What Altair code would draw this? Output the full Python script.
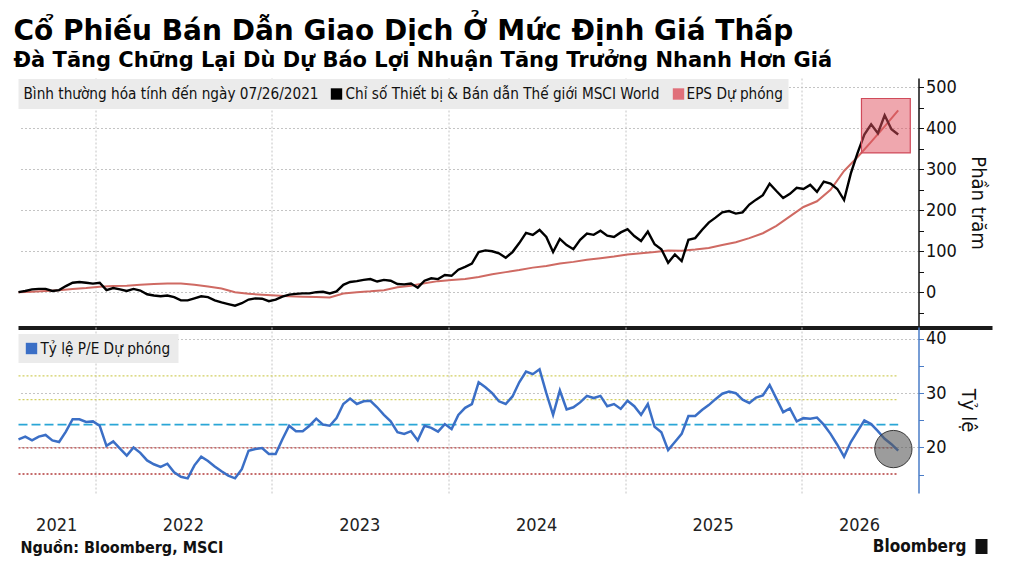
import altair as alt
import pandas as pd

START = "2021-07-26"

# MSCI World Semiconductors & Semiconductor Equipment, % change since 07/26/2021 (every 14 days)
index_pct = [
    0, 3, 7, 8, 8, 3, 5, 15, 23, 25,
    23, 21, 23, 5, 10, 7, 3, 8, 4, -5,
    -8, -10, -8, -12, -20, -20, -15, -10, -12, -20,
    -25, -29, -33, -27, -18, -15, -16, -22, -18, -11,
    -6, -4, -3, -3, 0, 1, -3, 2, 18, 25,
    27, 30, 32, 26, 30, 28, 20, 19, 21, 11,
    28, 34, 32, 42, 40, 55, 62, 70, 98, 102,
    100, 95, 84, 98, 120, 145, 140, 152, 135, 98,
    130, 115, 105, 128, 143, 140, 150, 138, 135, 146,
    154, 137, 125, 148, 117, 105, 72, 92, 76, 128,
    132, 152, 170, 182, 195, 198, 192, 195, 214, 226,
    237, 265, 247, 230, 240, 255, 252, 262, 245, 270,
    265, 252, 225, 290, 340, 385, 410, 388, 432, 398,
    385,
]

# Forward EPS, % change since 07/26/2021 (every 28 days)
eps_pct = [
    0, 1, 3, 5, 8, 10, 13, 15, 16, 18,
    20, 21, 21, 18, 14, 9, 0, -4, -6, -8,
    -10, -11, -12, -13, -3, 0, 2, 5, 12, 16,
    22, 27, 30, 32, 37, 44, 49, 54, 60, 64,
    70, 74, 79, 83, 87, 92, 95, 98, 102, 101,
    104, 108, 115, 122, 132, 144, 162, 185, 208, 222,
    250, 296, 330, 367, 405, 444,
]

# Forward P/E ratio (every 14 days)
pe_ratio = [
    21.5, 22.0, 21.3, 22.0, 22.3, 21.3, 21.0, 22.9, 25.2, 25.2,
    24.7, 24.8, 24.0, 20.3, 21.1, 19.8, 18.5, 20.0, 19.0, 17.6,
    16.9, 16.4, 17.0, 15.4, 14.6, 14.3, 16.7, 18.3, 17.5, 16.5,
    15.6, 14.8, 14.3, 16.0, 19.4, 19.7, 19.9, 18.8, 18.8, 21.5,
    24.0, 23.0, 23.0, 24.0, 25.3, 24.2, 24.0, 25.4, 28.0, 29.0,
    28.0, 28.5, 28.6, 27.4, 26.0, 24.8, 22.8, 22.5, 23.0, 21.3,
    24.0, 23.6, 22.9, 24.3, 23.4, 26.0, 27.3, 28.0, 32.0, 31.1,
    30.0, 28.5, 28.0, 29.4, 32.0, 34.0, 33.5, 34.4, 30.0, 26.0,
    30.5, 27.0, 27.4, 28.3, 29.5, 29.1, 29.5, 27.6, 28.0, 27.1,
    28.6, 27.6, 26.0, 28.0, 23.8, 22.8, 19.5, 21.0, 22.5, 25.8,
    25.8, 26.9, 27.8, 28.9, 29.9, 30.3, 30.0, 28.8, 28.2, 29.2,
    29.6, 31.5, 29.0, 26.5, 27.2, 24.8, 25.4, 25.3, 25.5, 24.2,
    22.5, 20.5, 18.3, 21.0, 23.0, 25.0, 24.3, 23.0, 21.6, 20.6,
    19.4,
]

# P/E reference levels: mean and +/- 1 and 2 standard deviations
pe_levels_high = [28.8, 33.2]
pe_levels_mean = [24.2]
pe_levels_low = [15.1, 19.9]

years = ["2021", "2022", "2023", "2024", "2025", "2026"]
year_mid = ["2021-10-13", "2022-07-02", "2023-07-02", "2024-07-02", "2025-07-02", "2026-05-01"]

# highlighted window on the index panel
box_start, box_end = "2026-05-05", "2026-08-14"
box_low, box_high = 340, 473

# marked reading on the P/E panel
mark_date, mark_pe = "2026-07-10", 19.7

TITLE = "Cổ Phiếu Bán Dẫn Giao Dịch Ở Mức Định Giá Thấp"
SUBTITLE = "Đà Tăng Chững Lại Dù Dự Báo Lợi Nhuận Tăng Trưởng Nhanh Hơn Giá"
LEG_NORM = "Bình thường hóa tính đến ngày 07/26/2021"
LEG_INDEX = "Chỉ số Thiết bị & Bán dẫn Thế giới MSCI World"
LEG_EPS = "EPS Dự phóng"
LEG_PE = "Tỷ lệ P/E Dự phóng"
SOURCE = "Nguồn: Bloomberg, MSCI"

# ---------------------------------------------------------------- frames
idx_dates = pd.date_range(START, periods=len(index_pct), freq="14D")
eps_dates = pd.date_range(START, periods=len(eps_pct), freq="28D")
idx_df = pd.DataFrame({"date": idx_dates, "value": index_pct})
eps_df = pd.DataFrame({"date": eps_dates, "value": eps_pct})
pe_df = pd.DataFrame({"date": idx_dates, "value": pe_ratio})

first_day, last_day = idx_dates[0], idx_dates[-1]


def level_frame(levels):
    return pd.DataFrame({"start": [first_day] * len(levels), "end": [last_day] * len(levels), "level": levels})


box_df = pd.DataFrame({"start": [pd.Timestamp(box_start)], "end": [pd.Timestamp(box_end)],
                       "low": [box_low], "high": [box_high]})
mark_df = pd.DataFrame({"date": [pd.Timestamp(mark_date)], "value": [mark_pe]})
year_df = pd.DataFrame({"year": years, "mid": pd.to_datetime(year_mid)})
one = pd.DataFrame({"k": [0]})

# ---------------------------------------------------------------- styling
TXT = "DejaVu Sans Condensed"
HEAD = "DejaVu Sans"
W, H_TOP, H_BOT = 900, 249, 166
GRID = "#c4c4c4"
BLUE = "#3b6fc6"
LEG_SIZE = 15.2

x_scale = alt.Scale(domain=[alt.DateTime(year=2021, month=7, date=26),
                            alt.DateTime(year=2026, month=8, date=31)])
x_axis = alt.Axis(values=[alt.DateTime(year=y, month=1, date=1) for y in range(2022, 2027)],
                  labels=False, ticks=False, domain=False, title=None,
                  grid=True, gridDash=[2, 2], gridColor=GRID)


def y_axis(values, step, title, line_color):
    return alt.Axis(
        orient="right", values=values,
        labelExpr=f"datum.value % {step} === 0 ? datum.label : ''",
        grid=True, gridDash=[2, 2], gridColor=GRID,
        gridOpacity={"condition": {"test": f"datum.value % {step} === 0", "value": 1}, "value": 0},
        domainColor=line_color, domainWidth=1.5, tickColor=line_color, tickSize=5,
        labelFont=TXT, labelFontSize=18, labelColor="#111", labelPadding=2,
        title=title, titleFont=TXT, titleFontSize=20, titleFontWeight="normal",
        titleColor="#111", titlePadding=11,
    )


def xenc(field):
    return alt.X(f"{field}:T", scale=x_scale, axis=x_axis)


# ---------------------------------------------------------------- top panel
y_top = alt.Scale(domain=[-85, 523], nice=False, zero=False)
y_top_axis = y_axis(list(range(-50, 501, 50)), 100, "Phần trăm", "#111")


def ytop(field):
    return alt.Y(f"{field}:Q", scale=y_top, axis=y_top_axis)


eps_line = alt.Chart(eps_df).mark_line(color="#cf6a63", strokeWidth=2).encode(
    x=xenc("date"), y=ytop("value"))
idx_line = alt.Chart(idx_df).mark_line(color="#000000", strokeWidth=2.4).encode(
    x=xenc("date"), y=ytop("value"))
box = alt.Chart(box_df).mark_rect(fill="#e0505e", fillOpacity=0.5, stroke="#d04a5a",
                                  strokeWidth=1.2).encode(
    x=xenc("start"), x2="end:T", y=ytop("low"), y2="high:Q")


def label(text, x, y, **kw):
    return alt.Chart(one).mark_text(text=text, align="left", baseline="middle", font=TXT,
                                    fontSize=LEG_SIZE, color="#111", **kw).encode(
        x=alt.value(x), y=alt.value(y))


def swatch(color, x, y):
    return alt.Chart(one).mark_square(size=130, color=color, opacity=1).encode(
        x=alt.value(x), y=alt.value(y))


top_legend = [
    alt.Chart(one).mark_rect(color="#ebebeb").encode(
        x=alt.value(0), x2=alt.value(770), y=alt.value(1), y2=alt.value(31)),
    label(LEG_NORM, 5, 16),
    swatch("#000000", 318, 16),
    label(LEG_INDEX, 327, 16),
    swatch("#e0707a", 660, 16),
    label(LEG_EPS, 668, 16),
]
separator = alt.Chart(one).mark_rule(color="#1a1a1a", strokeWidth=4).encode(
    x=alt.value(0), x2=alt.value(974), y=alt.value(H_TOP + 1))

top = alt.layer(eps_line, idx_line, box, *top_legend, separator).properties(width=W, height=H_TOP)

# ---------------------------------------------------------------- bottom panel
y_bot = alt.Scale(domain=[11.6, 42.2], nice=False, zero=False)
y_bot_axis = y_axis([15, 20, 25, 30, 35, 40], 10, "Tỷ lệ", "#4a7cc7")


def ybot(field):
    return alt.Y(f"{field}:Q", scale=y_bot, axis=y_bot_axis)


def level_rules(levels, color, dash, width=1.3):
    return alt.Chart(level_frame(levels)).mark_rule(color=color, strokeWidth=width,
                                                    strokeDash=dash).encode(
        x=xenc("start"), x2="end:T", y=ybot("level"))


pe_line = alt.Chart(pe_df).mark_line(color=BLUE, strokeWidth=2.5).encode(
    x=xenc("date"), y=ybot("value"))
marker = alt.Chart(mark_df).mark_point(shape="circle", filled=True, size=1390, fill="#5a5a5a",
                                       fillOpacity=0.6, stroke="#2a2a2a", strokeOpacity=0.9,
                                       strokeWidth=1).encode(
    x=xenc("date"), y=ybot("value"))
bot_legend = [
    alt.Chart(one).mark_rect(color="#ebebeb").encode(
        x=alt.value(0), x2=alt.value(160), y=alt.value(7), y2=alt.value(36)),
    swatch(BLUE, 13, 21.5),
    label(LEG_PE, 22, 21.5),
]
year_labels = alt.Chart(year_df).mark_text(font=TXT, fontSize=18, baseline="middle",
                                           color="#222").encode(
    x=xenc("mid"), y=alt.value(H_BOT + 33), text="year:N")
footer = [
    alt.Chart(one).mark_text(text=SOURCE, align="left", baseline="middle", font=TXT,
                             fontSize=16, fontWeight="bold", color="#111").encode(
        x=alt.value(2), y=alt.value(H_BOT + 55)),
    alt.Chart(one).mark_text(text="Bloomberg", align="right", baseline="middle", font=TXT,
                             fontSize=17, fontWeight="bold", color="#111").encode(
        x=alt.value(948), y=alt.value(H_BOT + 54)),
    alt.Chart(one).mark_rect(color="#111").encode(
        x=alt.value(957), x2=alt.value(969), y=alt.value(H_BOT + 46), y2=alt.value(H_BOT + 61)),
]

bottom = alt.layer(
    level_rules(pe_levels_high, "#d2cf62", [2, 2]),
    level_rules(pe_levels_low, "#b23a3a", [2, 2]),
    level_rules(pe_levels_mean, "#2aa6d6", [9, 4], 1.6),
    pe_line, marker, *bot_legend, year_labels, *footer,
).properties(width=W, height=H_BOT)

chart = alt.vconcat(top, bottom, spacing=0, bounds="flush").properties(
    title=alt.TitleParams(
        text=TITLE, subtitle=SUBTITLE, anchor="start",
        font=HEAD, fontSize=28, fontWeight="bold", color="#000",
        subtitleFont=HEAD, subtitleFontSize=21, subtitleFontWeight="bold", subtitleColor="#000",
        subtitlePadding=4, offset=7,
    ),
    padding={"left": 13.5, "top": 18, "right": 0, "bottom": 0},
    background="white",
).configure_view(stroke=None)

chart.save("out.html", embed_options={"renderer": "svg", "actions": False})
